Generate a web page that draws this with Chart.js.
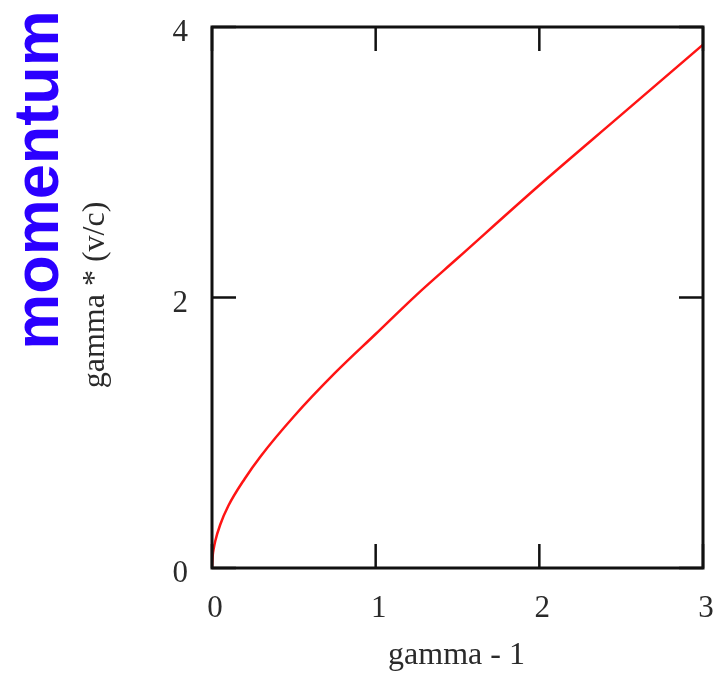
<!DOCTYPE html>
<html>
<head>
<meta charset="utf-8">
<script src="https://cdn.jsdelivr.net/npm/chart.js@4"></script>
<style>
  html, body { margin: 0; padding: 0; background: #fff; }
  #wrap { width: 720px; height: 673px; }
</style>
</head>
<body>
<div id="wrap"><canvas id="momentum"></canvas></div>
<script>
// gamma - 1 along x, gamma * (v/c) along y
const gammaMinusOne = [0, 0.005, 0.01, 0.02, 0.05, 0.1, 0.2, 0.3, 0.5, 0.75, 1, 1.25, 1.5, 2, 2.5, 3];
const momentumVals = [0, 0.1, 0.14, 0.2, 0.32, 0.46, 0.66, 0.83, 1.12, 1.44, 1.73, 2.02, 2.29, 2.83, 3.35, 3.87];
const xTicks = [0, 1, 2, 3];
const yTicks = [0, 2, 4];

const serif = '"Liberation Serif", "Times New Roman", serif';

// frame, inward ticks and the side labels
const frameAndLabels = {
    id: 'frameAndLabels',
    afterDatasetsDraw(chart) {
        const c = chart.ctx;
        const a = chart.chartArea;
        const xs = chart.scales.x, ys = chart.scales.y;
        const len = 24;
        c.save();
        c.strokeStyle = '#111';
        c.lineWidth = 2.5;
        xTicks.forEach(v => {
            const px = xs.getPixelForValue(v);
            c.beginPath();
            c.moveTo(px, a.bottom); c.lineTo(px, a.bottom - len);
            c.moveTo(px, a.top); c.lineTo(px, a.top + len);
            c.stroke();
        });
        yTicks.forEach(v => {
            const py = ys.getPixelForValue(v);
            c.beginPath();
            c.moveTo(a.left, py); c.lineTo(a.left + len, py);
            c.moveTo(a.right, py); c.lineTo(a.right - len, py);
            c.stroke();
        });
        c.lineWidth = 3;
        c.strokeRect(a.left, a.top, a.right - a.left, a.bottom - a.top);

        c.fillStyle = '#2a2a2a';
        c.font = '32px ' + serif;
        c.textAlign = 'center';
        c.textBaseline = 'alphabetic';
        c.fillText('gamma - 1', (a.left + a.right) / 2 - 1, 664);

        c.translate(104, 295);
        c.rotate(-Math.PI / 2);
        c.fillText('gamma * (v/c)', 0, 0);
        c.restore();

        c.save();
        c.fillStyle = '#2b00ff';
        c.font = 'bold 63px "Liberation Sans", Arial, sans-serif';
        c.textAlign = 'center';
        c.translate(58, 180);
        c.rotate(-Math.PI / 2);
        c.fillText('momentum', 0, 0);
        c.restore();
    }
};

new Chart(document.getElementById('momentum'), {
    type: 'scatter',
    data: {
        datasets: [{
            data: gammaMinusOne.map((x, i) => ({ x: x, y: momentumVals[i] })),
            showLine: true,
            borderColor: 'rgb(255, 20, 20)',
            borderWidth: 2.5,
            pointRadius: 0,
            cubicInterpolationMode: 'monotone'
        }]
    },
    options: {
        responsive: true,
        maintainAspectRatio: false,
        animation: false,
        layout: { padding: { left: 0, top: 27, right: 17, bottom: 0 } },
        plugins: { legend: { display: false }, tooltip: { enabled: false } },
        scales: {
            x: {
                type: 'linear', min: 0, max: 3,
                afterBuildTicks: s => { s.ticks = xTicks.map(v => ({ value: v })); },
                afterFit: s => { s.height = 105; s.paddingLeft = 0; s.paddingRight = 0; },
                grid: { display: false },
                border: { display: false },
                ticks: { color: '#2a2a2a', padding: 14, labelOffset: 3, font: { size: 31, family: serif } }
            },
            y: {
                type: 'linear', min: 0, max: 4,
                afterBuildTicks: s => { s.ticks = yTicks.map(v => ({ value: v })); },
                afterFit: s => { s.width = 212; s.paddingTop = 0; s.paddingBottom = 0; },
                grid: { display: false },
                border: { display: false },
                ticks: { color: '#2a2a2a', padding: 16, labelOffset: 6, font: { size: 31, family: serif } }
            }
        }
    },
    plugins: [frameAndLabels]
});
</script>
</body>
</html>
